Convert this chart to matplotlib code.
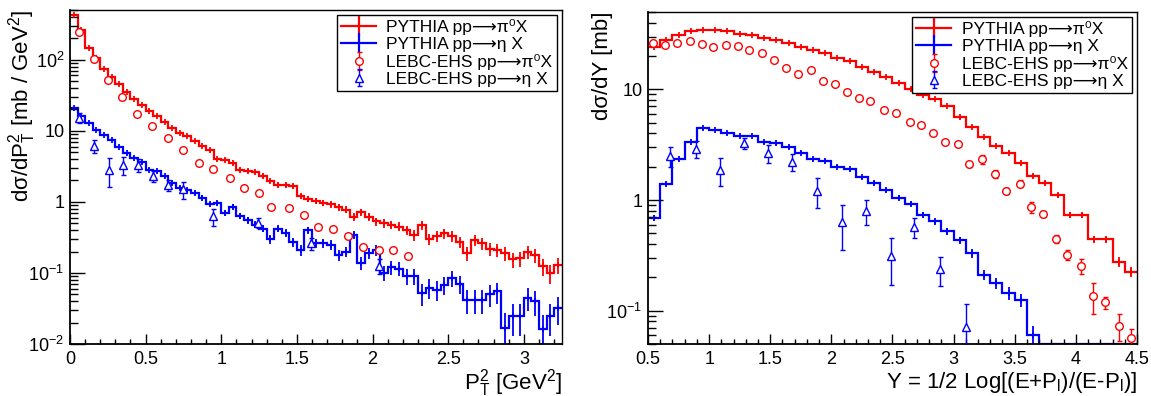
import numpy as np
import matplotlib
matplotlib.use('Agg')
import matplotlib.pyplot as plt
from matplotlib.lines import Line2D
from matplotlib.ticker import LogLocator, MultipleLocator, FuncFormatter, NullFormatter

plt.rcParams['font.family'] = ['Liberation Sans', 'DejaVu Sans']
plt.rcParams['mathtext.fontset'] = 'custom'
plt.rcParams['mathtext.rm'] = 'Liberation Sans'
plt.rcParams['mathtext.it'] = 'Liberation Sans:italic'
plt.rcParams['mathtext.bf'] = 'Liberation Sans:bold'

# ---- left panel: dsigma/dPT^2, 0.05 GeV^2 bins from 0 to 3.25 ----
pt2_edges = np.linspace(0, 3.25, 66)
pt2_pythia_pi0 = [420, 265, 148, 105, 75, 58, 45, 35, 28, 23,
                  19, 16, 13.2, 11, 9.4, 8.4, 7.1, 6.1, 5.3, 4.0,
                  3.9, 3.5, 2.8, 2.7, 2.6, 2.3, 1.95, 1.75, 1.7, 1.65,
                  1.2, 1.1, 1.02, 0.97, 0.92, 0.84, 0.78, 0.62, 0.72, 0.62,
                  0.53, 0.5, 0.48, 0.45, 0.4, 0.34, 0.47, 0.3, 0.33, 0.36,
                  0.33, 0.27, 0.19, 0.29, 0.26, 0.22, 0.21, 0.19, 0.155, 0.16,
                  0.2, 0.18, 0.125, 0.1, 0.13]
pt2_pythia_eta = [21, 16.4, 13, 10.4, 8.6, 7.4, 6.0, 4.8, 4.2, 3.6,
                  2.85, 2.7, 2.3, 1.85, 1.55, 1.45, 1.35, 1.15, 0.93, 0.95,
                  0.7, 0.86, 0.63, 0.55, 0.48, 0.42, 0.30, 0.42, 0.37, 0.27,
                  0.21, 0.40, 0.26, 0.26, 0.25, 0.18, 0.20, 0.34, 0.14, 0.19,
                  0.21, 0.10, 0.12, 0.115, 0.09, 0.09, 0.052, 0.062, 0.058, 0.068,
                  0.085, 0.07, 0.042, 0.042, 0.042, 0.05, 0.055, 0.017, 0.025, 0.025,
                  0.045, 0.04, 0.016, 0.025, 0.032]

lebc_pt2_pi0_x = [0.06, 0.16, 0.25, 0.345, 0.44, 0.54, 0.65, 0.75, 0.85, 0.945,
                  1.06, 1.15, 1.25, 1.33, 1.45, 1.545, 1.64, 1.74, 1.835, 1.94,
                  2.04, 2.135, 2.235]
lebc_pt2_pi0_y = [248, 103, 51.6, 29.7, 17.1, 11.5, 7.9, 5.3, 3.55, 2.9,
                  2.18, 1.55, 1.32, 0.85, 0.81, 0.65, 0.44, 0.42, 0.33, 0.23,
                  0.21, 0.21, 0.175]
lebc_pt2_pi0_err = [8, 3, 1.5, 0.9, 0.5, 0.35, 0.25, 0.17, 0.12, 0.1,
                    0.08, 0.06, 0.05, 0.04, 0.04, 0.03, 0.025, 0.025, 0.02, 0.015,
                    0.015, 0.015, 0.012]

lebc_pt2_eta_x = [0.06, 0.16, 0.255, 0.35, 0.45, 0.55, 0.645, 0.745, 0.945, 1.245, 1.595, 2.04]
lebc_pt2_eta_y = [15.2, 6.1, 2.85, 3.3, 3.3, 2.3, 1.7, 1.5, 0.63, 0.51, 0.26, 0.127]
lebc_pt2_eta_err = [2.4, 1.3, 1.25, 0.95, 0.7, 0.4, 0.3, 0.4, 0.17, 0.08, 0.05, 0.03]

# ---- right panel: dsigma/dY, 0.1 bins from 0.5 to 4.5 ----
y_edges = np.linspace(0.5, 4.5, 41)
y_pythia_pi0 = [23.9, 28.2, 31.3, 33.5, 34.4, 34.4, 33.8, 31.9, 30.8, 29.2,
                27.8, 26.3, 24.2, 22.6, 21.1, 19.4, 18.1, 16.0, 14.4, 12.8,
                11.3, 10.0, 8.85, 8.1, 7.06, 5.57, 4.59, 3.72, 3.09, 2.67,
                2.14, 1.65, 1.43, 1.1, 0.73, 0.73, 0.44, 0.44, 0.277, 0.225]
y_pythia_eta = [0.69, 1.41, 2.33, 3.36, 4.44, 4.28, 4.0, 3.8, 3.8, 3.32,
                3.25, 2.99, 2.67, 2.33, 2.26, 2.0, 1.89, 1.6, 1.42, 1.23,
                1.05, 0.93, 0.73, 0.64, 0.52, 0.435, 0.33, 0.21, 0.177, 0.144,
                0.125, 0.06, 0, 0, 0, 0, 0, 0, 0, 0]

lebc_y_pi0_x = [0.54, 0.64, 0.74, 0.84, 0.94, 1.03, 1.14, 1.24, 1.33, 1.43,
                1.53, 1.63, 1.73, 1.83, 1.93, 2.03, 2.13, 2.23, 2.32, 2.43,
                2.53, 2.64, 2.73, 2.83, 2.93, 3.04, 3.13, 3.23, 3.34, 3.43,
                3.54, 3.63, 3.73, 3.84, 3.93, 4.04, 4.14, 4.24, 4.35, 4.45]
lebc_y_pi0_y = [26, 25, 26, 27.6, 25.7, 24, 25.4, 24.5, 22.6, 21.4,
                18.4, 15.6, 13.7, 14.9, 11.9, 11.1, 9.4, 8.3, 7.8, 6.5,
                6.06, 5.1, 4.75, 4.0, 3.32, 3.18, 2.1, 2.33, 1.72, 1.21,
                1.41, 0.86, 0.75, 0.445, 0.32, 0.254, 0.136, 0.119, 0.073, 0.057]
lebc_y_pi0_err = [0.4, 0.4, 0.4, 0.4, 0.4, 0.4, 0.4, 0.4, 0.4, 0.35,
                  0.3, 0.3, 0.3, 0.3, 0.25, 0.25, 0.2, 0.2, 0.2, 0.15,
                  0.15, 0.15, 0.15, 0.12, 0.12, 0.12, 0.1, 0.2, 0.14, 0.08,
                  0.1, 0.09, 0.05, 0.04, 0.035, 0.04, 0.043, 0.015, 0.02, 0.012]

lebc_y_eta_x = [0.68, 0.89, 1.09, 1.285, 1.48, 1.675, 1.885, 2.085, 2.28, 2.49, 2.68, 2.89, 3.10]
lebc_y_eta_y = [2.5, 2.88, 1.87, 3.25, 2.64, 2.22, 1.21, 0.63, 0.80, 0.31, 0.57, 0.237, 0.071]
lebc_y_eta_err = [0.5, 0.5, 0.53, 0.35, 0.47, 0.39, 0.36, 0.28, 0.2, 0.14, 0.12, 0.07, 0.044]

# plain text (no mathtext) so missing glyphs fall back to DejaVu Sans
labels = ['PYTHIA pp\u27f6\u03c0\u2070X',
          'PYTHIA pp\u27f6\u03b7 X',
          'LEBC-EHS pp\u27f6\u03c0\u2070X',
          'LEBC-EHS pp\u27f6\u03b7 X']

RED = '#ff0000'
BLUE = '#0000ff'


def draw_hist(ax, edges, vals, color, c_stat, ymin):
    vals = np.asarray(vals, dtype=float)
    shown = np.maximum(vals, ymin)  # empty bins sit on the frame like in ROOT
    ax.stairs(shown, edges, color=color, lw=1.6, baseline=None)
    centers = 0.5 * (edges[1:] + edges[:-1])
    ok = vals > 0
    err = np.sqrt(vals[ok] * c_stat)  # MC statistical errors
    lo = np.minimum(err, vals[ok] * 0.999)
    ax.errorbar(centers[ok], vals[ok], yerr=[lo, err], fmt='none',
                ecolor=color, elinewidth=1.3)
    ax.plot(centers[ok], vals[ok], ls='none', marker='|', ms=5, mew=1.3, color=color)


def draw_points(ax, x, y, err, color, marker, ms, label):
    y = np.asarray(y, dtype=float)
    err = np.asarray(err, dtype=float)
    lo = np.minimum(err, y * 0.999)
    return ax.errorbar(x, y, yerr=[lo, err], fmt=marker, mfc='white', mec=color,
                       ecolor=color, color=color, ms=ms, mew=1.0, elinewidth=1.0,
                       capsize=1.8, capthick=1.0, label=label, zorder=3)


def log_label(v, pos):
    names = {0.01: '$10^{-2}$', 0.1: '$10^{-1}$', 1: '1', 10: '10', 100: '$10^{2}$'}
    for k, s in names.items():
        if abs(v - k) / k < 1e-6:
            return s
    return ''


def style(ax, xlim, ylim):
    ax.set_xlim(*xlim)
    ax.set_yscale('log')
    ax.set_ylim(*ylim)
    ax.xaxis.set_major_locator(MultipleLocator(0.5))
    ax.xaxis.set_minor_locator(MultipleLocator(0.1))
    ax.yaxis.set_major_locator(LogLocator(base=10, subs=(1.0,)))
    ax.yaxis.set_minor_locator(LogLocator(base=10, subs=np.arange(2, 10)))
    ax.yaxis.set_major_formatter(FuncFormatter(log_label))
    ax.yaxis.set_minor_formatter(NullFormatter())
    ax.xaxis.set_major_formatter(FuncFormatter(lambda v, p: f'{v:g}'))
    ax.tick_params(which='both', direction='in', top=False, right=False,
                   labelsize=13, width=1.0)
    ax.tick_params(axis='x', which='major', length=7, pad=5)
    ax.tick_params(axis='x', which='minor', length=3.5)
    ax.tick_params(axis='y', which='major', length=11, pad=4)
    ax.tick_params(axis='y', which='minor', length=5.5)
    for s in ax.spines.values():
        s.set_linewidth(1.0)
    ax.spines['left'].set_linewidth(1.3)
    ax.spines['bottom'].set_linewidth(1.3)


def legend(ax, handles):
    leg = ax.legend(handles=handles, labels=labels, loc='upper right',
                    bbox_to_anchor=(0.99, 0.985), bbox_transform=ax.transAxes,
                    fontsize=12.5, handlelength=2.0, labelspacing=0.1,
                    borderpad=0.25, handletextpad=0.6, borderaxespad=0,
                    fancybox=False, framealpha=1.0, edgecolor='black')
    leg.get_frame().set_linewidth(1.0)


fig = plt.figure(figsize=(11.51, 3.96), dpi=100)
ax1 = fig.add_axes([0.0608, 0.1313, 0.4272, 0.8434])
ax2 = fig.add_axes([0.5630, 0.1313, 0.4248, 0.8384])

# left
draw_hist(ax1, pt2_edges, pt2_pythia_pi0, RED, 0.009, 0.01)
draw_hist(ax1, pt2_edges, pt2_pythia_eta, BLUE, 0.0058, 0.01)
p1 = draw_points(ax1, lebc_pt2_pi0_x, lebc_pt2_pi0_y, lebc_pt2_pi0_err, RED, 'o', 5.5, labels[2])
p2 = draw_points(ax1, lebc_pt2_eta_x, lebc_pt2_eta_y, lebc_pt2_eta_err, BLUE, '^', 6, labels[3])
style(ax1, (0, 3.25), (0.01, 500))
ax1.text(-0.098, 1.0, 'd\u03c3/d$\\mathrm{P}^{2}_{\\mathrm{T}}$ [mb / GeV$^{2}$]',
         transform=ax1.transAxes, rotation=90, ha='center', va='top', fontsize=16)
ax1.text(1.0, -0.117, '$\\mathrm{P}^{2}_{\\mathrm{T}}$ [GeV$^{2}$]',
         transform=ax1.transAxes, ha='right', va='center', fontsize=16)
h_red = Line2D([], [], color=RED, lw=1.6, marker='|', ms=14, mew=1.6)
h_blue = Line2D([], [], color=BLUE, lw=1.6, marker='|', ms=14, mew=1.6)
legend(ax1, [h_red, h_blue, p1, p2])

# right
draw_hist(ax2, y_edges, y_pythia_pi0, RED, 0.0026, 0.05)
draw_hist(ax2, y_edges, y_pythia_eta, BLUE, 0.0024, 0.05)
q1 = draw_points(ax2, lebc_y_pi0_x, lebc_y_pi0_y, lebc_y_pi0_err, RED, 'o', 5.5, labels[2])
q2 = draw_points(ax2, lebc_y_eta_x, lebc_y_eta_y, lebc_y_eta_err, BLUE, '^', 6, labels[3])
style(ax2, (0.5, 4.5), (0.05, 50))
ax2.text(-0.094, 1.0, 'd\u03c3/dY [mb]', transform=ax2.transAxes, rotation=90,
         ha='center', va='top', fontsize=16)
ax2.text(1.0, -0.117, 'Y = 1/2 Log[(E+P$_{\\mathrm{l}}$)/(E-P$_{\\mathrm{l}}$)]',
         transform=ax2.transAxes, ha='right', va='center', fontsize=16)
legend(ax2, [h_red, h_blue, q1, q2])

fig.savefig('out.png', dpi=100)
